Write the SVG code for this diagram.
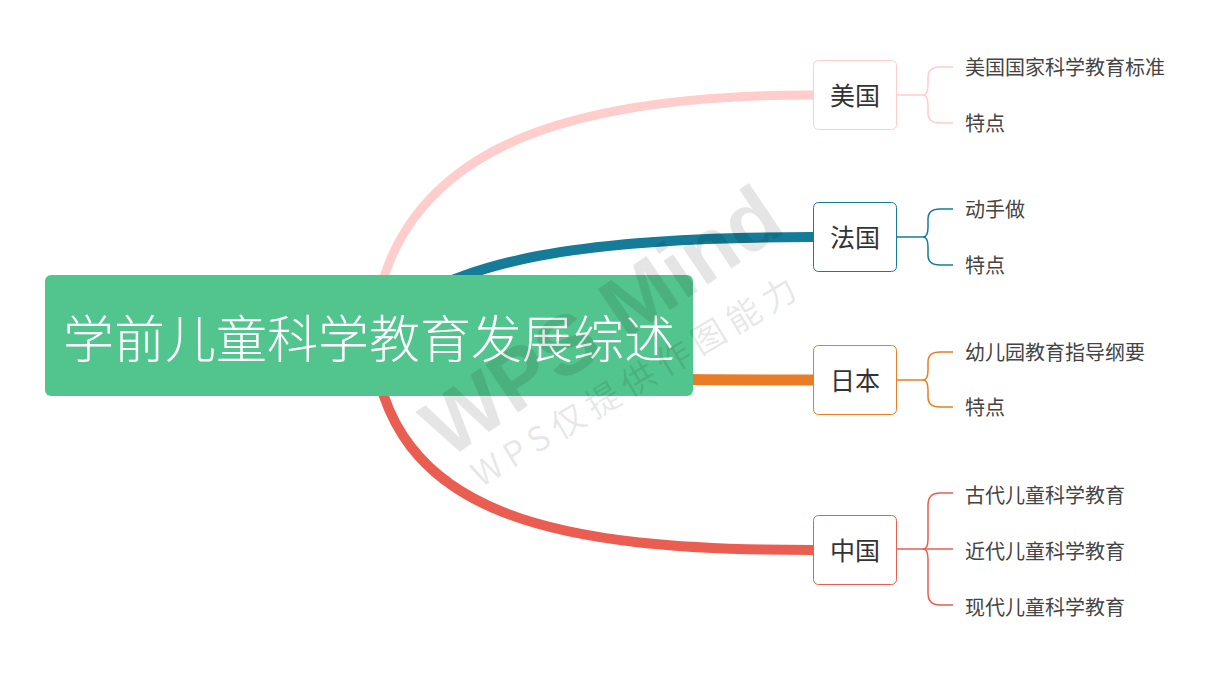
<svg xmlns="http://www.w3.org/2000/svg" width="1230" height="674" viewBox="0 0 1230 674">
<style>
text{font-family:"Noto Sans CJK SC","Noto Sans",sans-serif}
.main{fill:none;stroke-linecap:butt}
.sub{fill:none;stroke-width:1.5}
.box{fill:#fff;stroke-width:1}
.ctry{font-size:25px;fill:#333;text-anchor:middle}
.leaf{font-size:20px;fill:#444}
.wm{fill:#000;fill-opacity:0.1}
</style>
<rect width="1230" height="674" fill="#fff"/>
<g id="connectors">
<path class="main" d="M372,335 C390,150 560,95 813,95" stroke="#ffcdcb" stroke-width="9"/>
<path class="main" d="M369,335 C440,255 600,237 813,237" stroke="#147c98" stroke-width="10"/>
<path class="main" d="M369,335 C450,380 600,380 813,380" stroke="#e87d25" stroke-width="11"/>
<path class="main" d="M372,335 C385,520 560,550 813,550" stroke="#e95e50" stroke-width="10"/>
<g stroke="#ffcdcb" class="sub">
<path d="M897,95 H923 Q928,95 928,85 V77 Q928,67 940,67 H953"/>
<path d="M923,95 Q928,95 928,105 V113 Q928,123 940,123 H953"/>
</g>
<g stroke="#147c98" class="sub">
<path d="M897,237 H923 Q928,237 928,227 V219 Q928,209 940,209 H953"/>
<path d="M923,237 Q928,237 928,247 V255 Q928,265 940,265 H953"/>
</g>
<g stroke="#e87d25" class="sub">
<path d="M897,380 H923 Q928,380 928,370 V362 Q928,352 940,352 H953"/>
<path d="M923,380 Q928,380 928,390 V397 Q928,407 940,407 H953"/>
</g>
<g stroke="#e95e50" class="sub">
<path d="M897,549 H953"/>
<path d="M923,549 Q928,549 928,539 V505 Q928,493 940,493 H953"/>
<path d="M923,549 Q928,549 928,559 V593 Q928,605 940,605 H953"/>
</g>
</g>
<g id="root">
<rect x="45" y="275" width="648" height="121" rx="6" fill="#52c48d"/>
<text x="369" y="358" font-size="51" font-weight="300" fill="#fff" text-anchor="middle">学前儿童科学教育发展综述</text>
</g>
<g id="usa">
<rect class="box" x="813.5" y="60.5" width="83" height="69" rx="5" stroke="#ffcdcb"/>
<text class="ctry" x="855" y="105">美国</text>
</g>
<g id="usa-1"><text class="leaf" x="965" y="75">美国国家科学教育标准</text></g>
<g id="usa-2"><text class="leaf" x="965" y="131">特点</text></g>
<g id="france">
<rect class="box" x="813.5" y="202.5" width="83" height="69" rx="5" stroke="#147c98"/>
<text class="ctry" x="855" y="247">法国</text>
</g>
<g id="france-1"><text class="leaf" x="965" y="217">动手做</text></g>
<g id="france-2"><text class="leaf" x="965" y="273">特点</text></g>
<g id="japan">
<rect class="box" x="813.5" y="345.5" width="83" height="69" rx="5" stroke="#e87d25"/>
<text class="ctry" x="855" y="390">日本</text>
</g>
<g id="japan-1"><text class="leaf" x="965" y="360">幼儿园教育指导纲要</text></g>
<g id="japan-2"><text class="leaf" x="965" y="415">特点</text></g>
<g id="china">
<rect class="box" x="813.5" y="515.5" width="83" height="69" rx="5" stroke="#e95e50"/>
<text class="ctry" x="855" y="560">中国</text>
</g>
<g id="china-1"><text class="leaf" x="965" y="503">古代儿童科学教育</text></g>
<g id="china-2"><text class="leaf" x="965" y="559">近代儿童科学教育</text></g>
<g id="china-3"><text class="leaf" x="965" y="615">现代儿童科学教育</text></g>
<g id="watermark">
<text class="wm" x="602" y="350" font-size="84" font-weight="bold" text-anchor="middle" transform="rotate(-34 602 322)" style="font-family:'Liberation Sans',sans-serif">WPS Mind</text>
<text class="wm" x="637" y="392" font-size="34" letter-spacing="7" text-anchor="middle" transform="rotate(-31 637 380)">WPS仅提供作图能力</text>
</g>
</svg>
